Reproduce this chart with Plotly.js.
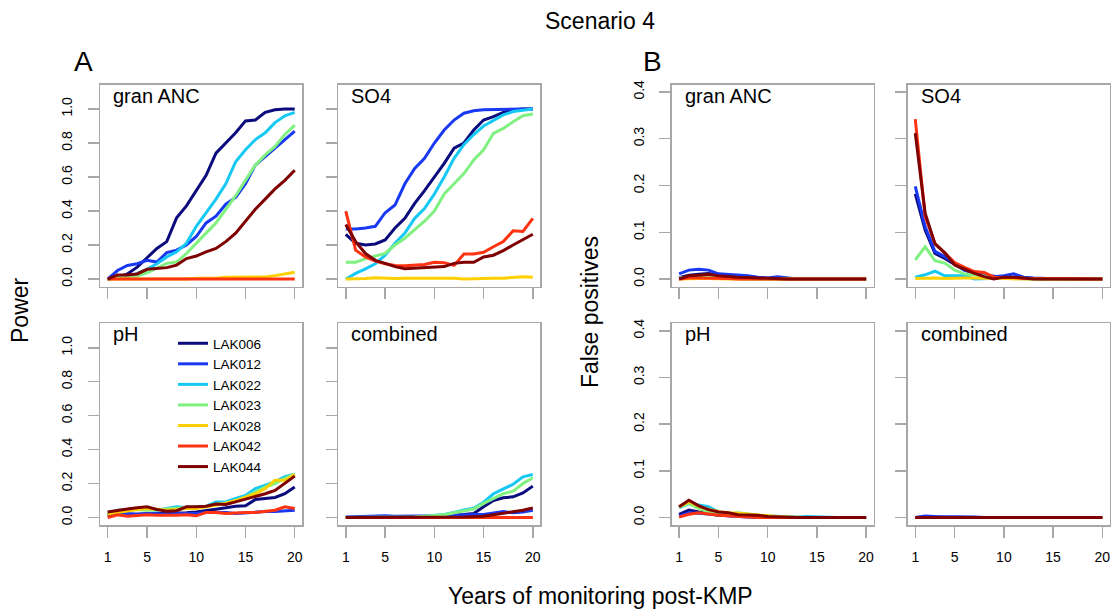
<!DOCTYPE html>
<html>
<head>
<meta charset="utf-8">
<script src="https://cdn.plot.ly/plotly-3.0.1.min.js"></script>
<style>html,body{margin:0;padding:0;background:#fff;}#chart{width:1112px;height:610px;}</style>
</head>
<body>
<div id="chart"></div>
<script>
// ---------------- DATA ----------------
const years = [1,2,3,4,5,6,7,8,9,10,11,12,13,14,15,16,17,18,19,20];
const lakes = ['LAK006','LAK012','LAK022','LAK023','LAK028','LAK042','LAK044'];
const panelNames = ['gran ANC','SO4','pH','combined'];
const powerTicks = [0,0.2,0.4,0.6,0.8,1.0];
const powerTickText = ['0.0','0.2','0.4','0.6','0.8','1.0'];
const fpTicks = [0,0.1,0.2,0.3,0.4];
const fpTickText = ['0.0','0.1','0.2','0.3','0.4'];
const yearTicks = [1,5,10,15,20];

// Power (panel A), one row per lake in the order of `lakes`
const powerGranANC = [
  [0.00,0.01,0.03,0.07,0.125,0.18,0.22,0.36,0.43,0.52,0.61,0.74,0.80,0.86,0.93,0.935,0.98,0.995,1.00,1.00],
  [0.00,0.05,0.08,0.09,0.11,0.10,0.155,0.17,0.20,0.25,0.33,0.37,0.44,0.48,0.56,0.67,0.72,0.77,0.82,0.87],
  [0.00,0.006,0.014,0.033,0.057,0.09,0.13,0.16,0.21,0.31,0.39,0.47,0.56,0.69,0.76,0.82,0.86,0.92,0.96,0.98],
  [0.00,0.006,0.01,0.018,0.037,0.063,0.092,0.10,0.15,0.21,0.27,0.33,0.41,0.49,0.58,0.67,0.73,0.78,0.85,0.905],
  [0.00,0.00,0.00,0.00,0.00,0.00,0.00,0.00,0.00,0.005,0.005,0.005,0.01,0.01,0.01,0.01,0.012,0.02,0.03,0.04],
  [0.00,0.00,0.00,0.00,0.00,0.00,0.00,0.00,0.00,0.00,0.00,0.00,0.00,0.00,0.00,0.00,0.00,0.00,0.00,0.00],
  [0.00,0.024,0.024,0.03,0.057,0.063,0.067,0.082,0.12,0.135,0.16,0.18,0.22,0.27,0.34,0.41,0.47,0.53,0.58,0.64]
];
const powerSO4 = [
  [0.263,0.21,0.20,0.206,0.23,0.30,0.357,0.445,0.52,0.60,0.68,0.77,0.80,0.876,0.935,0.955,0.98,0.994,1.00,1.00],
  [0.294,0.294,0.30,0.31,0.39,0.435,0.56,0.65,0.71,0.80,0.876,0.935,0.975,0.99,0.995,0.997,1.00,1.00,1.00,1.00],
  [0.00,0.033,0.06,0.09,0.14,0.21,0.27,0.357,0.415,0.50,0.60,0.71,0.79,0.85,0.90,0.935,0.965,0.985,0.994,1.00],
  [0.098,0.098,0.12,0.137,0.15,0.20,0.24,0.29,0.34,0.40,0.50,0.56,0.62,0.70,0.76,0.857,0.886,0.925,0.96,0.97],
  [0.00,0.00,0.003,0.008,0.005,0.003,0.005,0.005,0.003,0.005,0.005,0.005,0.00,0.003,0.005,0.005,0.005,0.008,0.013,0.01],
  [0.40,0.17,0.13,0.105,0.09,0.08,0.078,0.08,0.085,0.098,0.096,0.08,0.147,0.147,0.157,0.19,0.22,0.284,0.28,0.357],
  [0.32,0.22,0.15,0.11,0.092,0.073,0.06,0.063,0.067,0.069,0.073,0.092,0.098,0.098,0.13,0.14,0.167,0.20,0.23,0.263]
];
const powerPH = [
  [0.01,0.018,0.018,0.02,0.02,0.02,0.024,0.024,0.028,0.033,0.043,0.049,0.057,0.067,0.069,0.106,0.112,0.118,0.14,0.18],
  [0.02,0.028,0.024,0.02,0.024,0.02,0.02,0.024,0.024,0.024,0.03,0.03,0.03,0.024,0.028,0.03,0.035,0.035,0.037,0.043],
  [0.028,0.043,0.047,0.053,0.047,0.043,0.053,0.063,0.059,0.063,0.067,0.092,0.092,0.112,0.13,0.17,0.19,0.21,0.24,0.255],
  [0.024,0.037,0.043,0.047,0.043,0.047,0.047,0.053,0.057,0.063,0.067,0.079,0.086,0.10,0.12,0.15,0.18,0.20,0.23,0.255],
  [0.02,0.03,0.037,0.047,0.053,0.049,0.043,0.047,0.053,0.053,0.063,0.073,0.083,0.10,0.12,0.14,0.17,0.22,0.22,0.253],
  [0.00,0.016,0.008,0.012,0.016,0.014,0.012,0.014,0.016,0.01,0.03,0.03,0.024,0.028,0.03,0.03,0.035,0.043,0.063,0.053],
  [0.033,0.043,0.05,0.057,0.063,0.047,0.037,0.04,0.063,0.063,0.067,0.079,0.077,0.092,0.108,0.12,0.14,0.16,0.20,0.244]
];
const powerCombined = [
  [0.00,0.00,0.00,0.00,0.00,0.00,0.00,0.00,0.00,0.003,0.005,0.014,0.018,0.024,0.063,0.10,0.116,0.122,0.145,0.185],
  [0.003,0.005,0.005,0.005,0.01,0.008,0.008,0.008,0.008,0.008,0.01,0.014,0.018,0.018,0.018,0.028,0.035,0.028,0.033,0.043],
  [0.00,0.00,0.00,0.00,0.00,0.00,0.00,0.003,0.008,0.014,0.018,0.03,0.045,0.055,0.09,0.14,0.167,0.196,0.24,0.253],
  [0.00,0.00,0.00,0.00,0.00,0.00,0.00,0.003,0.008,0.014,0.016,0.028,0.04,0.05,0.083,0.112,0.14,0.155,0.20,0.234],
  [0.00,0.00,0.00,0.00,0.00,0.00,0.00,0.00,0.00,0.00,0.00,0.00,0.00,0.00,0.00,0.00,0.00,0.00,0.00,0.00],
  [0.00,0.00,0.00,0.00,0.00,0.00,0.00,0.00,0.00,0.00,0.00,0.00,0.00,0.00,0.00,0.00,0.003,0.00,0.00,0.00],
  [0.00,0.00,0.00,0.00,0.00,0.00,0.00,0.00,0.00,0.00,0.00,0.00,0.003,0.005,0.008,0.016,0.024,0.033,0.043,0.057]
];

// False positives (panel B)
const fpGranANC = [
  [0.003,0.008,0.01,0.012,0.008,0.006,0.005,0.003,0.002,0.001,0.001,0.00,0.00,0.00,0.00,0.00,0.00,0.00,0.00,0.00],
  [0.011,0.019,0.021,0.019,0.011,0.01,0.009,0.007,0.004,0.002,0.005,0.002,0.00,0.00,0.00,0.00,0.00,0.00,0.00,0.00],
  [0.002,0.003,0.004,0.003,0.002,0.002,0.001,0.00,0.00,0.00,0.00,0.00,0.00,0.00,0.00,0.00,0.00,0.00,0.00,0.00],
  [0.002,0.004,0.006,0.005,0.003,0.002,0.001,0.00,0.00,0.00,0.00,0.00,0.00,0.00,0.00,0.00,0.00,0.00,0.00,0.00],
  [0.00,0.001,0.001,0.001,0.00,0.00,0.00,0.00,0.00,0.00,0.00,0.00,0.00,0.00,0.00,0.00,0.00,0.00,0.00,0.00],
  [0.00,0.002,0.002,0.002,0.001,0.001,0.00,0.00,0.00,0.00,0.00,0.00,0.00,0.00,0.00,0.00,0.00,0.00,0.00,0.00],
  [0.00,0.007,0.008,0.01,0.007,0.005,0.004,0.003,0.002,0.001,0.00,0.00,0.00,0.00,0.00,0.00,0.00,0.00,0.00,0.00]
];
const fpSO4 = [
  [0.182,0.105,0.055,0.044,0.031,0.019,0.012,0.008,0.006,0.004,0.004,0.002,0.001,0.00,0.00,0.00,0.00,0.00,0.00,0.00],
  [0.198,0.112,0.059,0.048,0.034,0.019,0.014,0.007,0.005,0.007,0.011,0.004,0.002,0.001,0.00,0.00,0.00,0.00,0.00,0.00],
  [0.004,0.009,0.017,0.007,0.007,0.007,0.00,0.001,0.002,0.002,0.001,0.00,0.00,0.00,0.00,0.00,0.00,0.00,0.00,0.00],
  [0.041,0.069,0.039,0.034,0.019,0.011,0.009,0.006,0.004,0.003,0.002,0.001,0.00,0.00,0.00,0.00,0.00,0.00,0.00,0.00],
  [0.001,0.002,0.002,0.001,0.002,0.002,0.002,0.001,0.001,0.001,0.00,0.00,0.00,0.00,0.00,0.00,0.00,0.00,0.00,0.00],
  [0.342,0.134,0.076,0.056,0.035,0.025,0.016,0.014,0.004,0.003,0.003,0.001,0.001,0.00,0.00,0.00,0.00,0.00,0.00,0.00],
  [0.312,0.141,0.075,0.056,0.03,0.021,0.012,0.005,0.00,0.004,0.004,0.002,0.00,0.00,0.00,0.00,0.00,0.00,0.00,0.00]
];
const fpPH = [
  [0.007,0.016,0.012,0.009,0.005,0.004,0.003,0.002,0.001,0.00,0.00,0.00,0.00,0.00,0.00,0.00,0.00,0.00,0.00,0.00],
  [0.003,0.01,0.009,0.007,0.005,0.003,0.002,0.001,0.00,0.00,0.00,0.00,0.00,0.00,0.00,0.00,0.00,0.00,0.00,0.00],
  [0.021,0.03,0.027,0.023,0.012,0.008,0.006,0.005,0.004,0.003,0.003,0.002,0.001,0.002,0.001,0.00,0.00,0.00,0.00,0.00],
  [0.023,0.03,0.019,0.012,0.01,0.007,0.01,0.007,0.004,0.002,0.001,0.00,0.00,0.00,0.00,0.00,0.00,0.00,0.00,0.00],
  [0.023,0.034,0.024,0.017,0.013,0.01,0.009,0.007,0.005,0.003,0.002,0.001,0.00,0.00,0.00,0.00,0.00,0.00,0.00,0.00],
  [0.001,0.007,0.01,0.007,0.005,0.004,0.002,0.001,0.00,0.00,0.00,0.00,0.00,0.00,0.00,0.00,0.00,0.00,0.00,0.00],
  [0.023,0.037,0.025,0.017,0.012,0.01,0.006,0.006,0.005,0.002,0.001,0.00,0.00,0.00,0.00,0.00,0.00,0.00,0.00,0.00]
];
const fpCombined = [
  [0.00,0.001,0.001,0.00,0.00,0.00,0.00,0.00,0.00,0.00,0.00,0.00,0.00,0.00,0.00,0.00,0.00,0.00,0.00,0.00],
  [0.00,0.003,0.002,0.002,0.001,0.001,0.001,0.00,0.00,0.00,0.00,0.00,0.00,0.00,0.00,0.00,0.00,0.00,0.00,0.00],
  [0.00,0.00,0.00,0.00,0.00,0.00,0.00,0.00,0.00,0.00,0.00,0.00,0.00,0.00,0.00,0.00,0.00,0.00,0.00,0.00],
  [0.00,0.00,0.00,0.00,0.00,0.00,0.00,0.00,0.00,0.00,0.00,0.00,0.00,0.00,0.00,0.00,0.00,0.00,0.00,0.00],
  [0.00,0.00,0.00,0.00,0.00,0.00,0.00,0.00,0.00,0.00,0.00,0.00,0.00,0.00,0.00,0.00,0.00,0.00,0.00,0.00],
  [0.00,0.00,0.00,0.00,0.00,0.00,0.00,0.00,0.00,0.00,0.00,0.00,0.00,0.00,0.00,0.00,0.00,0.00,0.00,0.00],
  [0.00,0.00,0.00,0.00,0.00,0.00,0.00,0.00,0.00,0.00,0.00,0.00,0.00,0.00,0.00,0.00,0.00,0.00,0.00,0.00]
];

// ---------------- STYLE / LAYOUT ----------------
const lakeColors = ['#0B0B7E','#1838F2','#16C9F4','#80F080','#FFD000','#FF3311','#7F0000'];
const W = 1112, H = 610;
const FONT = 'Liberation Sans, Arial, Helvetica, sans-serif';
const colPx = [[100.2,302.2],[338.3,540.3],[671.6,873.6],[907.8,1109.8]];
const rowPx = [[84.5,286.5],[323.3,525]];
const boxColor = '#a8a8a8';

const panels = [
  {data: powerGranANC, name: 0, col: 0, row: 0, kind: 'power'},
  {data: powerSO4,     name: 1, col: 1, row: 0, kind: 'power'},
  {data: powerPH,      name: 2, col: 0, row: 1, kind: 'power', legend: true},
  {data: powerCombined,name: 3, col: 1, row: 1, kind: 'power'},
  {data: fpGranANC,    name: 0, col: 2, row: 0, kind: 'fp'},
  {data: fpSO4,        name: 1, col: 3, row: 0, kind: 'fp'},
  {data: fpPH,         name: 2, col: 2, row: 1, kind: 'fp'},
  {data: fpCombined,   name: 3, col: 3, row: 1, kind: 'fp'}
];

const traces = [];
const layout = {
  width: W, height: H,
  margin: {l: 0, r: 0, t: 0, b: 0},
  paper_bgcolor: '#ffffff', plot_bgcolor: '#ffffff',
  font: {family: FONT, color: '#000000', size: 14},
  showlegend: true,
  legend: {
    x: 173 / W, y: 1 - 328 / H, xanchor: 'left', yanchor: 'top',
    bgcolor: 'rgba(0,0,0,0)', borderwidth: 0,
    font: {family: FONT, size: 13.5, color: '#000'},
    tracegroupgap: 0
  },
  annotations: [],
  shapes: []
};

panels.forEach((p, i) => {
  const n = i + 1;
  const xs = n === 1 ? '' : String(n);
  const c = colPx[p.col], r = rowPx[p.row];
  const isPower = p.kind === 'power';
  const showY = (p.col === 0 || p.col === 2);
  const showX = p.row === 1;
  layout['xaxis' + xs] = {
    domain: [c[0] / W, c[1] / W],
    range: [0.24, 20.76],
    anchor: 'y' + xs,
    showgrid: false, zeroline: false,
    showline: true, mirror: true, linecolor: boxColor, linewidth: 1.5,
    ticks: 'outside', ticklen: 11, tickwidth: 1.5, tickcolor: boxColor,
    tickmode: 'array', tickvals: yearTicks, ticktext: yearTicks.map(String),
    showticklabels: showX, ticklabelstandoff: 8,
    tickfont: {family: FONT, size: 14, color: '#000'},
    fixedrange: true
  };
  layout['yaxis' + xs] = {
    domain: [1 - r[1] / H, 1 - r[0] / H],
    range: isPower ? [-0.044, 1.144] : [-0.016, 0.416],
    anchor: 'x' + xs,
    showgrid: false, zeroline: false,
    showline: true, mirror: true, linecolor: boxColor, linewidth: 1.5,
    ticks: 'outside', ticklen: 11, tickwidth: 1.5, tickcolor: boxColor,
    tickmode: 'array',
    tickvals: isPower ? powerTicks : fpTicks,
    ticktext: isPower ? powerTickText : fpTickText,
    showticklabels: showY, tickangle: -90, ticklabelstandoff: 10,
    tickfont: {family: FONT, size: 14, color: '#000'},
    fixedrange: true
  };
  p.data.forEach((vals, j) => {
    traces.push({
      type: 'scatter', mode: 'lines',
      x: years, y: vals,
      xaxis: 'x' + xs, yaxis: 'y' + xs,
      name: lakes[j],
      line: {color: lakeColors[j], width: 3},
      showlegend: !!p.legend,
      hoverinfo: 'skip'
    });
  });
  layout.annotations.push({
    text: panelNames[p.name], xref: 'paper', yref: 'paper',
    x: (c[0] + 11) / W, y: 1 - (r[0] + 11) / H,
    xanchor: 'left', yanchor: 'middle', showarrow: false,
    font: {family: FONT, size: 20, color: '#000'}
  });
});

const addText = (text, px, py, size, angle) => layout.annotations.push({
  text: text, xref: 'paper', yref: 'paper', x: px / W, y: 1 - py / H,
  xanchor: 'center', yanchor: 'middle', showarrow: false,
  textangle: angle || 0, font: {family: FONT, size: size, color: '#000'}
});
addText('Scenario 4', 600, 21, 23);
addText('A', 83, 62, 28);
addText('B', 652, 62, 28);
addText('Power', 20, 310, 23, -90);
addText('False positives', 590, 312, 23, -90);
addText('Years of monitoring post-KMP', 600, 596, 23);

Plotly.newPlot('chart', traces, layout, {displayModeBar: false, staticPlot: true});
</script>
</body>
</html>
